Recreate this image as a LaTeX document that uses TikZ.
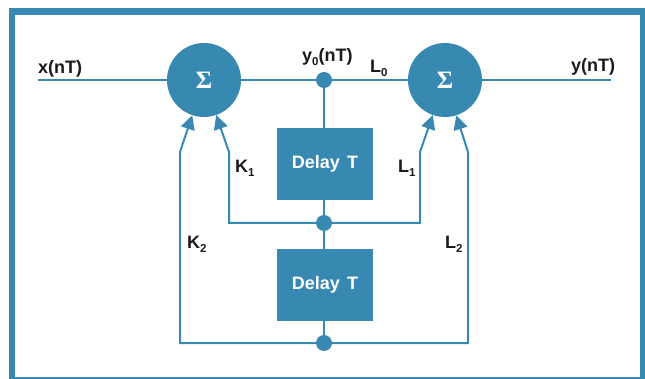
\documentclass[tikz,border=0pt]{standalone}
\usepackage{fontspec}
\setmainfont{Liberation Sans}
\newfontfamily\sigmafont{Liberation Serif}
\usetikzlibrary{arrows.meta}
\definecolor{hpblue}{RGB}{56,137,178}
\definecolor{ink}{RGB}{25,25,30}
\newcommand{\lsub}[1]{\raisebox{-0.4ex}{\fontsize{11.5pt}{12pt}\selectfont #1}}
\begin{document}
\begin{tikzpicture}[x=1pt,y=-1pt,
  wire/.style={hpblue,line width=2pt},
  sumnode/.style={circle,fill=hpblue,minimum size=74pt,inner sep=0pt,text=white,font=\sigmafont\fontsize{25pt}{25pt}\selectfont\bfseries},
  delaybox/.style={rectangle,fill=hpblue,minimum width=96pt,minimum height=72pt,inner sep=0pt,text=white,font=\fontsize{18pt}{18pt}\selectfont\bfseries},
  junction/.style={circle,fill=hpblue,minimum size=16pt,inner sep=0pt},
  lbl/.style={text=ink,font=\fontsize{18pt}{18pt}\selectfont\bfseries,inner sep=0pt,anchor=base west},
  fb/.style={wire,-{Triangle[width=14pt,length=14pt]}}
]
\useasboundingbox (0,0) rectangle (645,379);
% frame
\fill[hpblue] (9,8) rectangle (645,379);
\fill[white] (15,15) rectangle (640,377);

% nodes
\node[sumnode] (s1) at (204,80) {Σ};
\node[sumnode] (s2) at (445,80) {Σ};
\node[junction] (j0) at (324,80) {};
\node[delaybox] (d1) at (325,164) {Delay\hspace{0.4em}T};
\node[delaybox] (d2) at (325,285) {Delay\hspace{0.4em}T};
\node[junction] (j1) at (324,223) {};
\node[junction] (j2) at (324,343) {};
\coordinate (in) at (38,80);
\coordinate (out) at (611,80);
\coordinate (k1b) at (229,152);
\coordinate (k2b) at (180,152);
\coordinate (l1b) at (420,152);
\coordinate (l2b) at (468,152);

% main path
\draw[wire] (in) -- (s1);
\draw[wire] (s1) -- (j0);
\draw[wire] (j0) -- (s2);
\draw[wire] (s2) -- (out);
\draw[wire] (j0) -- (j0 |- d1.north);
\draw[wire] (j1 |- d1.south) -- (j1);
\draw[wire] (j1) -- (j1 |- d2.north);
\draw[wire] (j2 |- d2.south) -- (j2);

% feedback
\draw[fb] (j1) -| (k1b) -- (s1);
\draw[fb] (j2) -| (k2b) -- (s1);
\draw[fb] (j1) -| (l1b) -- (s2);
\draw[fb] (j2) -| (l2b) -- (s2);

% labels
\node[lbl] (lx) at (38,74) {x(nT)};
\node[lbl] (ly0) at (302,62) {y\lsub{0}(nT)};
\node[lbl] (ll0) at (370,73) {L\lsub{0}};
\node[lbl] (ly) at (571,72) {y(nT)};
\node[lbl] (lk1) at (235,173) {K\lsub{1}};
\node[lbl] (lk2) at (187,249) {K\lsub{2}};
\node[lbl] (ll1) at (398,173) {L\lsub{1}};
\node[lbl] (ll2) at (445,249) {L\lsub{2}};
\end{tikzpicture}
\end{document}
